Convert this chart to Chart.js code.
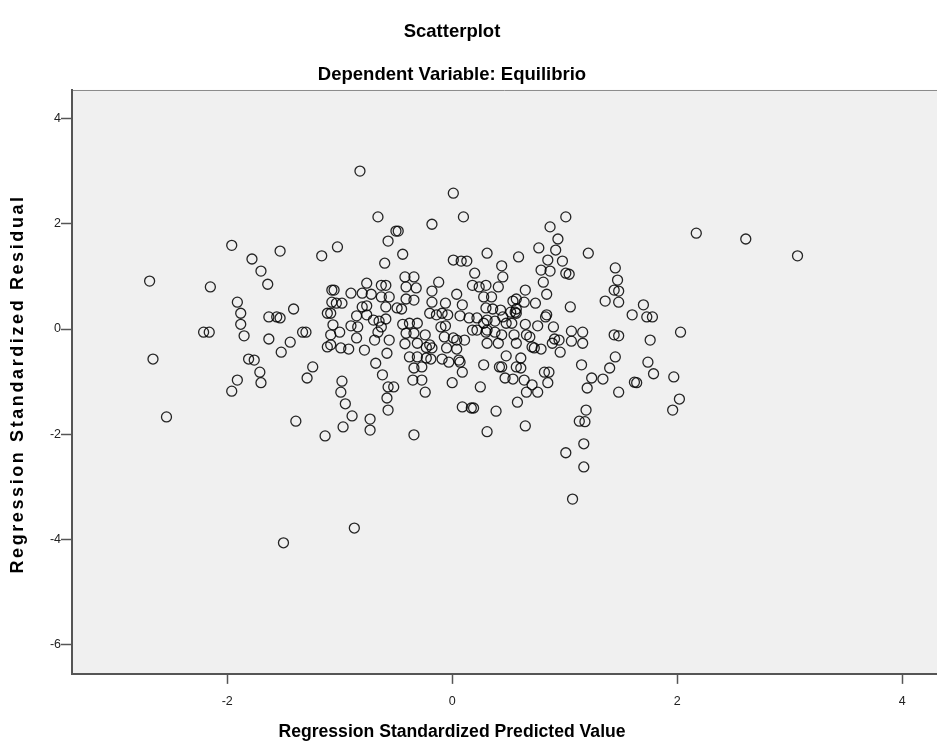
<!DOCTYPE html>
<html>
<head>
<meta charset="utf-8">
<title>Scatterplot</title>
<script src="https://cdn.jsdelivr.net/npm/chart.js@4.4.1/dist/chart.umd.min.js"></script>
<style>
  html, body { margin: 0; padding: 0; background: #fff; overflow: hidden; }
  #wrap { width: 937px; height: 749px; }
</style>
</head>
<body>
<div id="wrap"><canvas id="scatter" width="937" height="749"></canvas></div>
<script>
const chartTitle = ["Scatterplot", "Dependent Variable: Equilibrio"];
const xTitle = "Regression Standardized Predicted Value";
const yTitle = "Regression Standardized Residual";
const xTicks = [-2, 0, 2, 4];
const yTicks = [-6, -4, -2, 0, 2, 4];

// standardized predicted value (x) and standardized residual (y), one entry per case
const predicted = [
  -2.69, -2.66, -2.54, -2.15, -2.21, -2.16, -1.96, -1.91, -1.88, -1.88,
  -1.85, -1.91, -1.96, -1.78, -1.70, -1.64, -1.53, -1.63, -1.56, -1.53,
  -1.41, -1.63, -1.44, -1.52, -1.81, -1.76, -1.71, -1.70, -1.39, -1.50,
  -1.33, -1.30, -1.24, -1.29, -1.16, -1.02, -0.82, -1.07, -1.05, -0.90,
  -1.07, -1.03, -0.98, -1.11, -1.08, -0.85, -1.06, -0.90, -0.84, -1.00,
  -1.08, -0.85, -1.11, -1.08, -0.99, -0.92, -0.98, -0.99, -0.95, -0.89,
  -0.97, -1.13, -0.87, -0.66, -0.50, -0.48, -0.57, -0.44, -0.60, -0.18,
   0.01,  0.10,  0.01,  0.08,  0.13, -0.76, -0.80, -0.72, -0.63, -0.59,
  -0.63, -0.56, -0.76, -0.59, -0.45, -0.42, -0.34, -0.41, -0.32, -0.41,
  -0.34, -0.18, -0.12, -0.18, -0.06, -0.20, -0.09, -0.04,  0.04, -0.80,
  -0.76, -0.70, -0.59, -0.65, -0.63, -0.66, -0.69, -0.56, -0.58, -0.68,
  -0.44, -0.38, -0.31, -0.41, -0.34, -0.42, -0.31, -0.24, -0.20, -0.18,
  -0.38, -0.31, -0.23, -0.34, -0.27, -0.35, -0.27, -0.19, -0.09, -0.05,
  -0.07, -0.06,  0.01,  0.04,  0.06,  0.07, -0.03,  0.09,  0.00, -0.57,
  -0.52, -0.24, -0.58, -0.57, -0.73, -0.73, -0.34, -0.78, -0.62, -0.23,
  -0.10, -0.49, -0.14,  0.22,  0.57,  0.31,  0.59,  0.77,  0.87,  1.01,
   0.94,  0.92,  0.85,  0.98,  0.79,  0.87,  0.81,  1.01,  1.04,  0.84,
   1.05,  1.21,  0.20,  0.44,  0.45,  0.41,  0.65,  0.54,  0.64,  0.74,
   0.57,  0.18,  0.24,  0.30,  0.28,  0.35,  0.09,  0.30,  0.36,  0.43,
   0.52,  0.56,  0.84,  0.83,  0.31,  0.38,  0.48,  0.53,  0.65,  0.76,
   0.90,  0.15,  0.18,  0.22,  0.28,  0.30,  0.38,  0.45,  0.57,  0.44,
   0.31,  0.41,  0.48,  0.57,  0.66,  0.71,  0.57,  0.61,  0.42,  0.44,
   0.28,  0.25,  0.47,  0.54,  0.64,  0.71,  0.76,  0.66,  0.82,  0.86,
   0.85,  0.96,  0.89,  0.91,  0.95,  1.06,  1.16,  1.06,  1.16,  1.15,
   1.24,  1.34,  1.40,  1.45,  1.44,  1.48,  1.48,  1.20,  1.45,  1.47,
   1.44,  1.48,  1.36,  1.48,  0.58,  0.09,  0.17,  0.19,  0.39,  0.65,
   0.31,  1.19,  1.13,  1.18,  1.17,  1.01,  1.17,  1.07,  0.04,  0.11,
   0.07,  0.69,  0.79,  0.73,  0.61,  0.31,  0.55,  1.70,  1.60,  1.73,
   1.78,  2.03,  1.76,  1.74,  1.79,  1.97,  1.62,  1.64,  2.02,  1.96,
   2.17,  2.61,  3.07
];

const residual = [
   0.91, -0.57, -1.67,  0.80, -0.06, -0.06,  1.59,  0.51,  0.30,  0.09,
  -0.13, -0.97, -1.18,  1.33,  1.10,  0.85,  1.48,  0.23,  0.23,  0.21,
   0.38, -0.19, -0.25, -0.44, -0.57, -0.59, -0.82, -1.02, -1.75, -4.06,
  -0.06, -0.06, -0.72, -0.93,  1.39,  1.56,  3.00,  0.74,  0.74,  0.68,
   0.51,  0.49,  0.49,  0.30,  0.30,  0.25,  0.08,  0.06,  0.04, -0.06,
  -0.11, -0.17, -0.34, -0.30, -0.36, -0.38, -0.99, -1.20, -1.42, -1.65,
  -1.86, -2.03, -3.78,  2.13,  1.86,  1.86,  1.67,  1.42,  1.25,  1.99,
   2.58,  2.13,  1.31,  1.29,  1.29,  0.87,  0.68,  0.66,  0.83,  0.83,
   0.61,  0.61,  0.44,  0.42,  0.38,  0.99,  0.99,  0.80,  0.78,  0.57,
   0.55,  0.72,  0.89,  0.51,  0.49,  0.30,  0.30,  0.27,  0.66,  0.42,
   0.27,  0.17,  0.19,  0.15,  0.04, -0.06, -0.21, -0.21, -0.46, -0.65,
   0.09,  0.11,  0.11, -0.08, -0.08, -0.28, -0.27, -0.11, -0.30, -0.36,
  -0.53, -0.53, -0.55, -0.74, -0.72, -0.97, -0.97, -0.57, -0.57, -0.36,
  -0.15,  0.06, -0.17, -0.38, -0.59, -0.63, -0.63, -0.82, -1.02, -1.10,
  -1.10, -1.20, -1.31, -1.54, -1.71, -1.92, -2.01, -0.40, -0.87, -0.35,
   0.04,  0.40,  0.27,  0.21,  0.57,  1.44,  1.37,  1.54,  1.94,  2.13,
   1.71,  1.50,  1.31,  1.29,  1.12,  1.10,  0.89,  1.06,  1.04,  0.66,
   0.42,  1.44,  1.06,  1.20,  0.99,  0.80,  0.74,  0.53,  0.51,  0.49,
   0.38,  0.83,  0.80,  0.83,  0.61,  0.61,  0.46,  0.40,  0.38,  0.36,
   0.32,  0.32,  0.27,  0.23,  0.17,  0.15,  0.11,  0.11,  0.09,  0.06,
   0.04,  0.21, -0.02, -0.02,  0.11, -0.06, -0.06,  0.23,  0.30, -0.11,
  -0.27, -0.27, -0.51, -0.27, -0.11, -0.34, -0.72, -0.74, -0.72, -0.72,
  -0.68, -1.10, -0.93, -0.95, -0.97, -1.06, -1.20, -1.20, -0.82, -0.82,
  -1.02, -0.44, -0.27, -0.19, -0.21, -0.04, -0.06, -0.23, -0.27, -0.68,
  -0.93, -0.95, -0.74, -0.53, -0.11, -0.13, -1.20, -1.12,  1.16,  0.93,
   0.74,  0.72,  0.53,  0.51, -1.39, -1.48, -1.50, -1.50, -1.56, -1.84,
  -1.95, -1.54, -1.75, -1.76, -2.18, -2.35, -2.62, -3.23, -0.21, -0.21,
   0.25, -0.15, -0.38, -0.36, -0.55, -0.02, -0.11,  0.46,  0.27,  0.23,
   0.23, -0.06, -0.21, -0.63, -0.85, -0.91, -1.01, -1.02, -1.33, -1.54,
   1.82,  1.71,  1.39
];

const points = predicted.map((x, i) => ({ x: x, y: residual[i] }));

const fontFamily = "'Liberation Sans', Arial, sans-serif";

// grey plot background with a thin frame line along the top
const plotBackground = {
  id: "plotBackground",
  beforeDraw(chart) {
    const { ctx, chartArea } = chart;
    ctx.save();
    ctx.fillStyle = "#f0f0f0";
    ctx.fillRect(chartArea.left, chartArea.top,
      chartArea.right - chartArea.left, chartArea.bottom - chartArea.top);
    ctx.strokeStyle = "#8a8a8a";
    ctx.lineWidth = 1;
    ctx.beginPath();
    ctx.moveTo(chartArea.left, chartArea.top + 0.5);
    ctx.lineTo(chartArea.right, chartArea.top + 0.5);
    ctx.stroke();
    ctx.restore();
  }
};

// vertical axis title, letter-spaced like the SPSS output
const residualTitle = {
  id: "residualTitle",
  afterDraw(chart) {
    const { ctx, chartArea } = chart;
    ctx.save();
    ctx.translate(18, (chartArea.top + chartArea.bottom) / 2 + 2);
    ctx.rotate(-Math.PI / 2);
    ctx.font = "bold 18px " + fontFamily;
    ctx.letterSpacing = "2.6px";
    ctx.fillStyle = "#000";
    ctx.textAlign = "center";
    ctx.textBaseline = "middle";
    ctx.fillText(yTitle, 0, 0);
    ctx.restore();
  }
};

new Chart(document.getElementById("scatter"), {
  type: "scatter",
  data: {
    datasets: [
      {
        data: points,
        pointStyle: "circle",
        pointRadius: 5,
        pointBorderWidth: 1.3,
        borderColor: "rgba(0, 0, 0, 0.85)",
        backgroundColor: "rgba(0, 0, 0, 0)",
      },
    ],
  },
  options: {
    responsive: false,
    animation: false,
    devicePixelRatio: 1,
    // titles are centred on the full SPSS chart, which runs past the left edge
    layout: { autoPadding: false, padding: { left: -33, right: 0, top: 0, bottom: 0 } },
    plugins: {
      legend: { display: false },
      tooltip: { enabled: false },
      title: {
        display: true,
        text: chartTitle,
        color: "#000",
        font: { family: fontFamily, size: 18.5, weight: "bold", lineHeight: 2.324 },
        padding: { top: 10, bottom: -6 },
      },
      subtitle: {
        display: true,
        position: "bottom",
        text: xTitle,
        color: "#000",
        font: { family: fontFamily, size: 17.6, weight: "bold", lineHeight: 1.2 },
        padding: { top: 9.5, bottom: 6.5 },
      },
    },
    scales: {
      x: {
        type: "linear",
        min: -3.38,
        max: 4.31,
        afterBuildTicks: (scale) => {
          scale.ticks = xTicks.map((v) => ({ value: v }));
        },
        afterFit: (scale) => {
          scale.height = 38;
          // the plot runs right up to the canvas edge
          scale.paddingLeft = 0;
          scale.paddingRight = 0;
        },
        border: { color: "#555", width: 2 },
        grid: { drawOnChartArea: false, tickLength: 10, tickColor: "#555", tickWidth: 1.5 },
        ticks: { padding: 10, color: "#222", font: { family: fontFamily, size: 12.5 } },
      },
      y: {
        type: "linear",
        min: -6.55,
        max: 4.54,
        afterBuildTicks: (scale) => {
          scale.ticks = yTicks.map((v) => ({ value: v }));
        },
        afterFit: (scale) => {
          scale.width = 105;
        },
        border: { color: "#555", width: 2 },
        grid: { drawOnChartArea: false, tickLength: 11, tickColor: "#555", tickWidth: 1.5 },
        ticks: { padding: 0, color: "#222", font: { family: fontFamily, size: 12.5 } },
      },
    },
  },
  plugins: [plotBackground, residualTitle],
});
</script>
</body>
</html>
